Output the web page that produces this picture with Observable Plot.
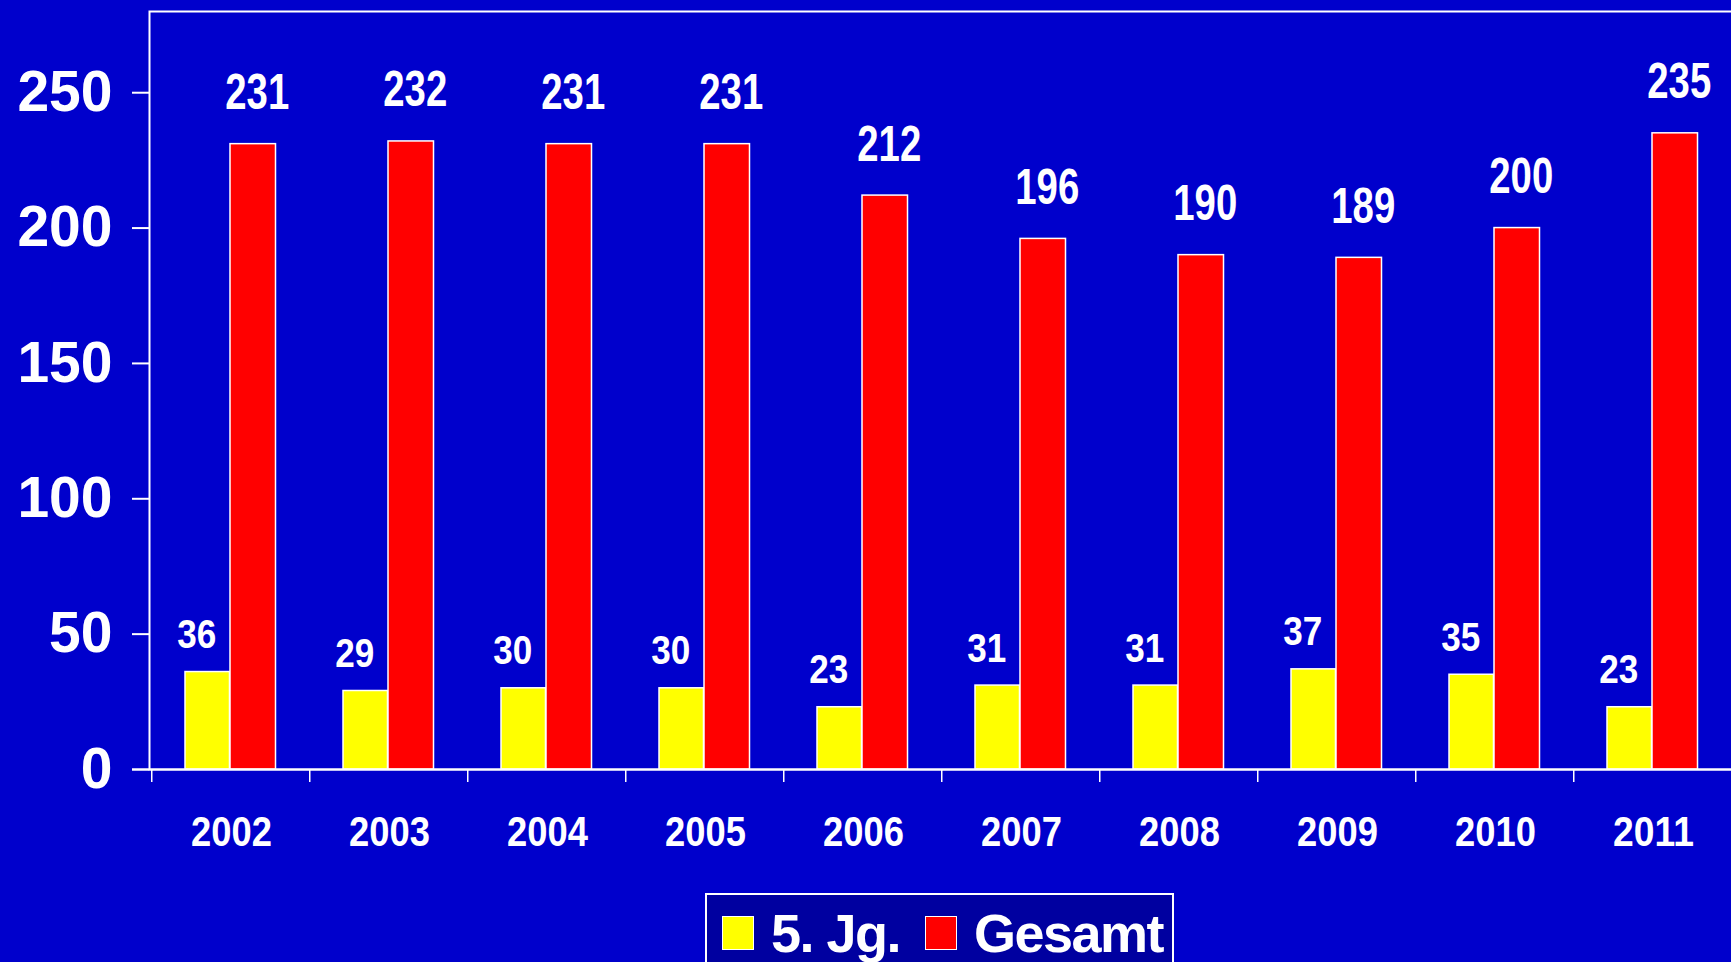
<!DOCTYPE html>
<html>
<head>
<meta charset="utf-8">
<script src="https://cdn.jsdelivr.net/npm/d3@7"></script>
<script src="https://cdn.jsdelivr.net/npm/@observablehq/plot@0.6"></script>
<style>
  html, body { margin: 0; padding: 0; background: #0000cc; overflow: hidden; width: 1731px; height: 962px; }
  #chart { position: absolute; left: 0; top: 0; }
  #legend {
    position: absolute; left: 705px; top: 893px; width: 465px; height: 90px;
    background: #0000a0; border: 2px solid #ffffff; box-sizing: content-box;
    font-family: "Liberation Sans", Arial, sans-serif; font-weight: bold; color: #fff;
  }
  .item { position: absolute; top: 11px; height: 54px; display: flex; align-items: center; }
  .sw { width: 32px; height: 34px; border: 1.5px solid #fff; box-sizing: border-box; margin-right: 17px; }
  .lbl { font-size: 54px; letter-spacing: -1.5px; line-height: 54px; }
</style>
</head>
<body>
<div id="chart"></div>
<div id="legend"></div>
<script>
const years = ["2002", "2003", "2004", "2005", "2006", "2007", "2008", "2009", "2010", "2011"];
const jg5 = [36, 29, 30, 30, 23, 31, 31, 37, 35, 23];
const gesamt = [231, 232, 231, 231, 212, 196, 190, 189, 200, 235];
const yTicks = [0, 50, 100, 150, 200, 250];
const seriesNames = ["5. Jg.", "Gesamt"];
const seriesColors = ["#ffff00", "#ff0000"];

const rows = years.map((year, i) => ({year, jg5: jg5[i], gesamt: gesamt[i]}));

const W = 1731, H = 880;
const mL = 149, mR = -3, mT = 11, mB = 111;
const bw = (W - mR - mL) / years.length;
const font = "'Liberation Sans', Arial, sans-serif";

const chart = Plot.plot({
  width: W, height: H,
  marginLeft: mL, marginRight: mR, marginTop: mT, marginBottom: mB,
  style: {background: "#0000cc", color: "white", fontFamily: font, maxWidth: "none", overflow: "visible"},
  x: {domain: years, padding: 0, axis: null},
  y: {domain: [0, 280], axis: null},
  marks: [
    Plot.frame({stroke: "white", strokeWidth: 2}),
    Plot.barY(rows, {x: "year", y: "jg5", fill: seriesColors[0], stroke: "white", strokeWidth: 1.5, insetLeft: 33, insetRight: bw - 78}),
    Plot.barY(rows, {x: "year", y: "gesamt", fill: seriesColors[1], stroke: "white", strokeWidth: 1.5, insetLeft: 78, insetRight: bw - 124}),
    Plot.ruleY([0], {stroke: "white", strokeWidth: 2, insetLeft: -17}),
    Plot.barY(years, {x: d => d, y1: 0, y2: 0, insetLeft: -1, insetRight: bw - 1, insetBottom: -13, fill: "white"}),
    Plot.axisY({ticks: yTicks, tickSize: 17, tickPadding: 20, strokeWidth: 2, fontSize: 57, fontWeight: "bold", fill: "white", stroke: "white", label: null}),
    Plot.axisX({tickSize: 0, tickPadding: 46, fontSize: 43, fontWeight: "bold", fill: "white", label: null}),
    Plot.text(rows, {x: "year", y: "gesamt", text: d => String(d.gesamt), dx: (78 + 124) / 2 - bw / 2 + 4, dy: -35, lineAnchor: "bottom", fontSize: 50, fontWeight: "bold", fill: "white"}),
    Plot.text(rows, {x: "year", y: "jg5", text: d => String(d.jg5), dx: (33 + 78) / 2 - bw / 2 - 11, dy: -24, lineAnchor: "bottom", fontSize: 41, fontWeight: "bold", fill: "white"})
  ]
});
document.getElementById("chart").appendChild(chart);

// condensed digits, like the original narrow lettering (keyed by the group's font size)
const perCharBySize = {"50": 21.3, "41": 19.5, "43": 20.2};
chart.querySelectorAll("text").forEach(t => {
  const g = t.closest("[font-size]");
  if (!g) return;
  const w = perCharBySize[String(parseFloat(g.getAttribute("font-size")))];
  if (!w) return;
  t.setAttribute("textLength", t.textContent.length * w);
  t.setAttribute("lengthAdjust", "spacingAndGlyphs");
});

const legend = document.getElementById("legend");
const lefts = [15, 218];
seriesNames.forEach((name, i) => {
  const item = document.createElement("div");
  item.className = "item";
  item.style.left = lefts[i] + "px";
  const sw = document.createElement("div");
  sw.className = "sw";
  sw.style.background = seriesColors[i];
  const lbl = document.createElement("span");
  lbl.className = "lbl";
  lbl.textContent = name;
  item.appendChild(sw);
  item.appendChild(lbl);
  legend.appendChild(item);
});
</script>
</body>
</html>
